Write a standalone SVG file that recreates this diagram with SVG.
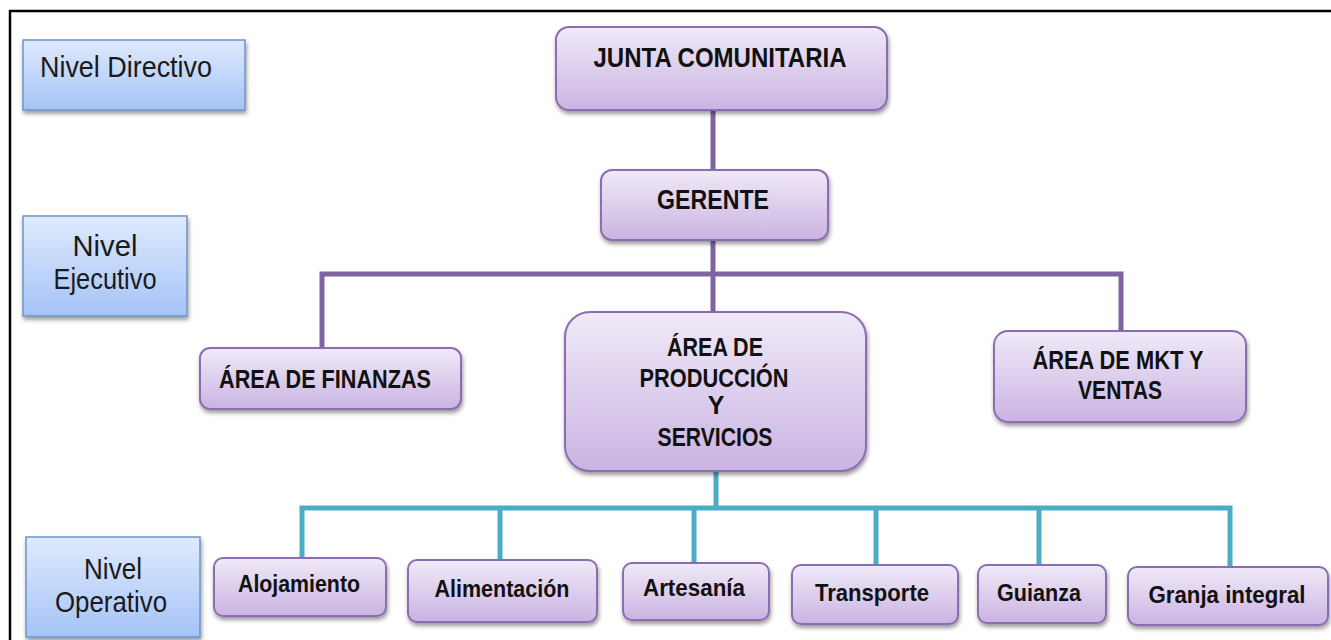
<svg xmlns="http://www.w3.org/2000/svg" width="1331" height="640" viewBox="0 0 1331 640">
<defs>
<linearGradient id="gp" x1="0" y1="0" x2="0" y2="1">
<stop offset="0" stop-color="#f0eaf8"/>
<stop offset="1" stop-color="#cab3e2"/>
</linearGradient>
<linearGradient id="gb" x1="0" y1="0" x2="0" y2="1">
<stop offset="0" stop-color="#dfeafd"/>
<stop offset="1" stop-color="#a5c3f7"/>
</linearGradient>
<filter id="sh" x="-10%" y="-10%" width="120%" height="130%">
<feDropShadow dx="1" dy="3" stdDeviation="2.2" flood-color="#000" flood-opacity="0.4"/>
</filter>
<style>
.p{fill:url(#gp);stroke:#8c6db1;stroke-width:2;filter:url(#sh)}
.b{fill:url(#gb);stroke:#6e95c9;stroke-width:1.5;filter:url(#sh)}
.t{font-family:"Liberation Sans",Arial,sans-serif;font-weight:bold;fill:#111;text-anchor:middle}
.n{font-family:"Liberation Sans",Arial,sans-serif;fill:#1a1a1a;text-anchor:middle}
.cp{stroke:#8064a2;stroke-width:5;fill:none}
.ct{stroke:#4bacc6;stroke-width:5;fill:none}
</style>
</defs>
<rect x="0" y="0" width="1331" height="640" fill="#fff"/>
<g id="frame">
<path d="M10 640 V11 H1331" fill="none" stroke="#000" stroke-width="2.5"/>
</g>
<g id="connectors">
<path class="cp" d="M713 110 V170"/>
<path class="cp" d="M713 240 V312"/>
<path class="cp" d="M322 348 V274 H1121 V331"/>
<path class="ct" d="M716 471 V508"/>
<path class="ct" d="M302 558 V508 H1230 V567"/>
<path class="ct" d="M500 508 V560"/>
<path class="ct" d="M694 508 V563"/>
<path class="ct" d="M876 508 V565"/>
<path class="ct" d="M1039 508 V565"/>
</g>
<g id="nivel-directivo">
<rect class="b" x="23" y="40" width="222" height="70"/>
<text class="n" x="40" y="77" font-size="30" style="text-anchor:start" textLength="172" lengthAdjust="spacingAndGlyphs">Nivel Directivo</text>
</g>
<g id="nivel-ejecutivo">
<rect class="b" x="23" y="216" width="164" height="100"/>
<text class="n" x="105" y="256" font-size="29" textLength="65" lengthAdjust="spacingAndGlyphs">Nivel</text>
<text class="n" x="105" y="289" font-size="29" textLength="103" lengthAdjust="spacingAndGlyphs">Ejecutivo</text>
</g>
<g id="nivel-operativo">
<rect class="b" x="26" y="537" width="174" height="100"/>
<text class="n" x="113" y="579" font-size="29" textLength="58" lengthAdjust="spacingAndGlyphs">Nivel</text>
<text class="n" x="111" y="612" font-size="29" textLength="112" lengthAdjust="spacingAndGlyphs">Operativo</text>
</g>
<g id="junta">
<rect class="p" x="556" y="27" width="331" height="83" rx="13"/>
<text class="t" x="720" y="67" font-size="27" textLength="253" lengthAdjust="spacingAndGlyphs">JUNTA  COMUNITARIA</text>
</g>
<g id="gerente">
<rect class="p" x="601" y="170" width="227" height="70" rx="11"/>
<text class="t" x="713" y="209" font-size="27" textLength="112" lengthAdjust="spacingAndGlyphs">GERENTE</text>
</g>
<g id="finanzas">
<rect class="p" x="200" y="348" width="261" height="61" rx="10"/>
<text class="t" x="325" y="388" font-size="26" textLength="212" lengthAdjust="spacingAndGlyphs">ÁREA DE FINANZAS</text>
</g>
<g id="produccion">
<rect class="p" x="565" y="312" width="301" height="159" rx="25"/>
<text class="t" x="715" y="356" font-size="25" textLength="96" lengthAdjust="spacingAndGlyphs">ÁREA DE</text>
<text class="t" x="714" y="387" font-size="25" textLength="149" lengthAdjust="spacingAndGlyphs">PRODUCCIÓN</text>
<text class="t" x="716" y="414" font-size="25">Y</text>
<text class="t" x="715" y="446" font-size="25" textLength="115" lengthAdjust="spacingAndGlyphs">SERVICIOS</text>
</g>
<g id="mkt">
<rect class="p" x="994" y="331" width="252" height="91" rx="14"/>
<text class="t" x="1118" y="369" font-size="25" textLength="171" lengthAdjust="spacingAndGlyphs">ÁREA DE MKT Y</text>
<text class="t" x="1120" y="399" font-size="25" textLength="84" lengthAdjust="spacingAndGlyphs">VENTAS</text>
</g>
<g id="alojamiento">
<rect class="p" x="214" y="558" width="172" height="58" rx="9"/>
<text class="t" x="299" y="592" font-size="24" textLength="122" lengthAdjust="spacingAndGlyphs">Alojamiento</text>
</g>
<g id="alimentacion">
<rect class="p" x="408" y="560" width="189" height="62" rx="9"/>
<text class="t" x="502" y="597" font-size="24" textLength="135" lengthAdjust="spacingAndGlyphs">Alimentación</text>
</g>
<g id="artesania">
<rect class="p" x="623" y="563" width="146" height="57" rx="9"/>
<text class="t" x="694" y="596" font-size="24" textLength="102" lengthAdjust="spacingAndGlyphs">Artesanía</text>
</g>
<g id="transporte">
<rect class="p" x="792" y="565" width="166" height="59" rx="9"/>
<text class="t" x="872" y="601" font-size="24" textLength="114" lengthAdjust="spacingAndGlyphs">Transporte</text>
</g>
<g id="guianza">
<rect class="p" x="978" y="565" width="128" height="58" rx="9"/>
<text class="t" x="1039" y="601" font-size="24" textLength="84" lengthAdjust="spacingAndGlyphs">Guianza</text>
</g>
<g id="granja">
<rect class="p" x="1128" y="567" width="200" height="58" rx="9"/>
<text class="t" x="1227" y="603" font-size="24" textLength="157" lengthAdjust="spacingAndGlyphs">Granja integral</text>
</g>
</svg>
